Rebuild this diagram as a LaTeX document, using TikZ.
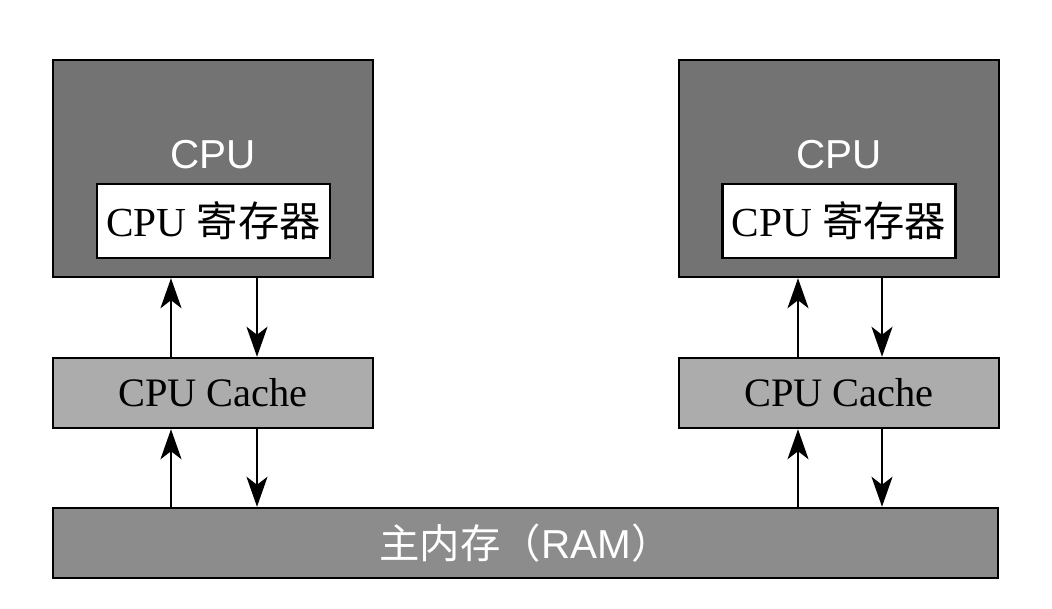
\documentclass[tikz,border=0pt]{standalone}
\usepackage{fontspec}
\setmainfont{Liberation Serif}
\setsansfont{Liberation Sans}
\newfontfamily\cjk{Noto Sans CJK SC}
\usepackage{tikz}
\usetikzlibrary{arrows.meta,positioning}

\definecolor{cpugray}{RGB}{115,115,115}
\definecolor{cachegray}{RGB}{172,172,172}
\definecolor{ramgray}{RGB}{140,140,140}

\begin{document}
\begin{tikzpicture}[x=0.2mm,y=-0.2mm]
    \tikzset{CB/.style={draw=black,line width=1.4pt,fill=cpugray,minimum width=64mm,minimum height=43.4mm,inner sep=0pt}}
    \tikzset{RB/.style={draw=black,line width=1.2pt,fill=white,minimum width=46.6mm,minimum height=14.8mm,inner sep=0pt,font=\fontsize{23.5}{26}\selectfont}}
    \tikzset{KB/.style={draw=black,line width=1.4pt,fill=cachegray,minimum width=64mm,minimum height=14mm,inner sep=0pt,font=\fontsize{23}{26}\selectfont}}
    \tikzset{WT/.style={text=white,font=\sffamily\fontsize{23}{26}\selectfont}}
    \tikzset{AR/.style={line width=1.3pt,-{Stealth[length=6mm,width=4.2mm,inset=1.6mm]}}}

    \useasboundingbox (0,0) rectangle (1052,609);

    \node (p1) [CB] at (213,168.5) {};
    	\node (l1) [WT] at (213,155) {CPU};
    	\node (g1) [RB] at (213.5,221) {CPU {\cjk 寄存器}};
    \node (p2) [CB] at (839,168.5) {};
    	\node (l2) [WT] at (839,155) {CPU};
    	\node (g2) [RB] at (839,221) {CPU {\cjk 寄存器}};

    \node (c1) [KB] at (213,393) {CPU Cache};
    \node (c2) [KB] at (839,393) {CPU Cache};

    \node (r) [KB,fill=ramgray,minimum width=189mm,WT] at (525.5,543) {{\cjk 主内存（}RAM{\cjk ）}};

    % cpu <-> cache
    \draw[AR] ([xshift=-8.4mm]c1.north) -- ([xshift=-8.4mm]c1.north |- p1.south);
    \draw[AR] ([xshift=8.8mm]c1.north |- p1.south) -- ([xshift=8.8mm]c1.north);
    \draw[AR] ([xshift=-8.2mm]c2.north) -- ([xshift=-8.2mm]c2.north |- p2.south);
    \draw[AR] ([xshift=8.6mm]c2.north |- p2.south) -- ([xshift=8.6mm]c2.north);

    % cache <-> ram
    \draw[AR] ([xshift=-8.4mm]c1.south |- r.north) -- ([xshift=-8.4mm]c1.south);
    \draw[AR] ([xshift=8.8mm]c1.south) -- ([xshift=8.8mm]c1.south |- r.north);
    \draw[AR] ([xshift=-8.2mm]c2.south |- r.north) -- ([xshift=-8.2mm]c2.south);
    \draw[AR] ([xshift=8.6mm]c2.south) -- ([xshift=8.6mm]c2.south |- r.north);
\end{tikzpicture}
\end{document}
